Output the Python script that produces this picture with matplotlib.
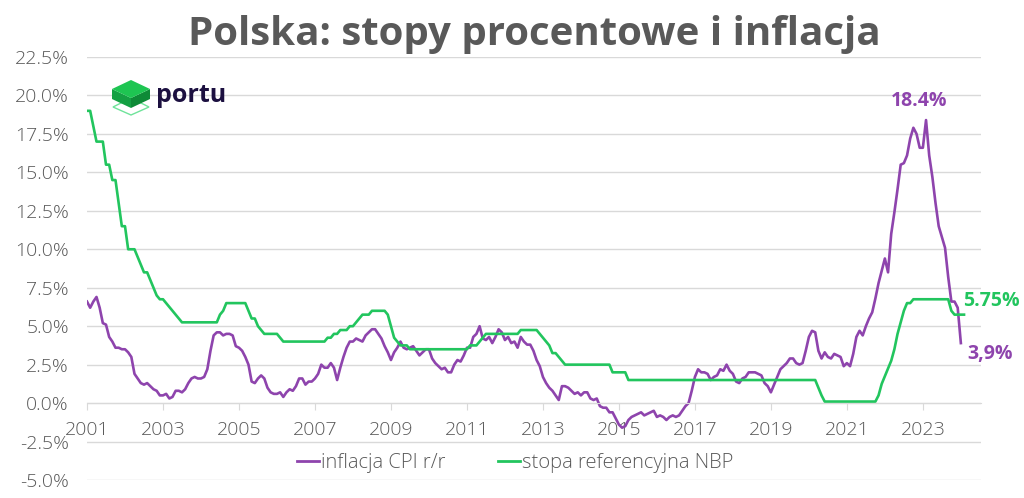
import matplotlib
matplotlib.use("Agg")
import matplotlib.pyplot as plt
from matplotlib.patches import Polygon
from matplotlib.lines import Line2D
import numpy as np

# monthly data, Jan 2001 onwards
cpi = [
    6.6, 6.2, 6.6, 6.9, 6.2, 5.2, 5.1, 4.3, 4.0, 3.6, 3.6, 3.5,      # 2001
    3.5, 3.3, 3.0, 1.9, 1.6, 1.3, 1.2, 1.3, 1.1, 0.9, 0.8, 0.5,      # 2002
    0.5, 0.6, 0.3, 0.4, 0.8, 0.8, 0.7, 0.9, 1.3, 1.6, 1.7, 1.6,      # 2003
    1.6, 1.7, 2.2, 3.4, 4.4, 4.6, 4.6, 4.4, 4.5, 4.5, 4.4, 3.7,      # 2004
    3.6, 3.4, 3.0, 2.5, 1.4, 1.3, 1.6, 1.8, 1.6, 1.0, 0.7, 0.6,      # 2005
    0.6, 0.7, 0.4, 0.7, 0.9, 0.8, 1.1, 1.6, 1.6, 1.2, 1.4, 1.4,      # 2006
    1.6, 1.9, 2.5, 2.3, 2.3, 2.6, 2.3, 1.5, 2.3, 3.0, 3.6, 4.0,      # 2007
    4.0, 4.2, 4.1, 4.0, 4.4, 4.6, 4.8, 4.8, 4.5, 4.2, 3.7, 3.3,      # 2008
    2.8, 3.3, 3.6, 4.0, 3.6, 3.5, 3.6, 3.7, 3.4, 3.1, 3.3, 3.5,      # 2009
    3.5, 2.9, 2.6, 2.4, 2.2, 2.3, 2.0, 2.0, 2.5, 2.8, 2.7, 3.1,      # 2010
    3.6, 3.6, 4.3, 4.5, 5.0, 4.2, 4.1, 4.3, 3.9, 4.3, 4.8, 4.6,      # 2011
    4.1, 4.3, 3.9, 4.0, 3.6, 4.3, 4.0, 3.8, 3.8, 3.4, 2.8, 2.4,      # 2012
    1.7, 1.3, 1.0, 0.8, 0.5, 0.2, 1.1, 1.1, 1.0, 0.8, 0.6, 0.7,      # 2013
    0.5, 0.7, 0.7, 0.3, 0.2, 0.3, -0.2, -0.3, -0.3, -0.6, -0.6, -1.0,  # 2014
    -1.4, -1.6, -1.5, -1.1, -0.9, -0.8, -0.7, -0.6, -0.8, -0.7, -0.6, -0.5,  # 2015
    -0.9, -0.8, -0.9, -1.1, -0.9, -0.8, -0.9, -0.8, -0.5, -0.2, 0.0, 0.8,   # 2016
    1.7, 2.2, 2.0, 2.0, 1.9, 1.5, 1.7, 1.8, 2.2, 2.1, 2.5, 2.1,      # 2017
    1.9, 1.4, 1.3, 1.6, 1.7, 2.0, 2.0, 2.0, 1.9, 1.8, 1.3, 1.1,      # 2018
    0.7, 1.2, 1.7, 2.2, 2.4, 2.6, 2.9, 2.9, 2.6, 2.5, 2.6, 3.4,      # 2019
    4.3, 4.7, 4.6, 3.4, 2.9, 3.3, 3.0, 2.9, 3.2, 3.1, 3.0, 2.4,      # 2020
    2.6, 2.4, 3.2, 4.3, 4.7, 4.4, 5.0, 5.5, 5.9, 6.8, 7.8, 8.6,      # 2021
    9.4, 8.5, 11.0, 12.4, 13.9, 15.5, 15.6, 16.1, 17.2, 17.9, 17.5, 16.6,  # 2022
    16.6, 18.4, 16.1, 14.7, 13.0, 11.5, 10.8, 10.1, 8.2, 6.6, 6.6, 6.2,    # 2023
    3.9,                                                              # 2024
]

stopa = [
    19.0, 19.0, 18.0, 17.0, 17.0, 17.0, 15.5, 15.5, 14.5, 14.5, 13.0, 11.5,  # 2001
    11.5, 10.0, 10.0, 10.0, 9.5, 9.0, 8.5, 8.5, 8.0, 7.5, 7.0, 6.75,        # 2002
    6.75, 6.5, 6.25, 6.0, 5.75, 5.5, 5.25, 5.25, 5.25, 5.25, 5.25, 5.25,    # 2003
    5.25, 5.25, 5.25, 5.25, 5.25, 5.25, 5.75, 6.0, 6.5, 6.5, 6.5, 6.5,      # 2004
    6.5, 6.5, 6.5, 6.0, 5.5, 5.5, 5.0, 4.75, 4.5, 4.5, 4.5, 4.5,            # 2005
    4.5, 4.25, 4.0, 4.0, 4.0, 4.0, 4.0, 4.0, 4.0, 4.0, 4.0, 4.0,            # 2006
    4.0, 4.0, 4.0, 4.0, 4.25, 4.25, 4.5, 4.5, 4.75, 4.75, 4.75, 5.0,        # 2007
    5.0, 5.25, 5.5, 5.75, 5.75, 5.75, 6.0, 6.0, 6.0, 6.0, 6.0, 5.75,        # 2008
    5.0, 4.25, 4.0, 3.75, 3.75, 3.75, 3.5, 3.5, 3.5, 3.5, 3.5, 3.5,         # 2009
    3.5, 3.5, 3.5, 3.5, 3.5, 3.5, 3.5, 3.5, 3.5, 3.5, 3.5, 3.5,             # 2010
    3.5, 3.75, 3.75, 3.75, 4.0, 4.25, 4.5, 4.5, 4.5, 4.5, 4.5, 4.5,         # 2011
    4.5, 4.5, 4.5, 4.5, 4.5, 4.75, 4.75, 4.75, 4.75, 4.75, 4.75, 4.5,       # 2012
    4.25, 4.0, 3.75, 3.25, 3.25, 3.0, 2.75, 2.5, 2.5, 2.5, 2.5, 2.5,        # 2013
    2.5, 2.5, 2.5, 2.5, 2.5, 2.5, 2.5, 2.5, 2.5, 2.5, 2.0, 2.0,             # 2014
    2.0, 2.0, 2.0, 1.5, 1.5, 1.5, 1.5, 1.5, 1.5, 1.5, 1.5, 1.5,             # 2015
    1.5, 1.5, 1.5, 1.5, 1.5, 1.5, 1.5, 1.5, 1.5, 1.5, 1.5, 1.5,             # 2016
    1.5, 1.5, 1.5, 1.5, 1.5, 1.5, 1.5, 1.5, 1.5, 1.5, 1.5, 1.5,             # 2017
    1.5, 1.5, 1.5, 1.5, 1.5, 1.5, 1.5, 1.5, 1.5, 1.5, 1.5, 1.5,             # 2018
    1.5, 1.5, 1.5, 1.5, 1.5, 1.5, 1.5, 1.5, 1.5, 1.5, 1.5, 1.5,             # 2019
    1.5, 1.5, 1.5, 1.0, 0.5, 0.1, 0.1, 0.1, 0.1, 0.1, 0.1, 0.1,             # 2020
    0.1, 0.1, 0.1, 0.1, 0.1, 0.1, 0.1, 0.1, 0.1, 0.1, 0.5, 1.25,            # 2021
    1.75, 2.25, 2.75, 3.5, 4.5, 5.25, 6.0, 6.5, 6.5, 6.75, 6.75, 6.75,      # 2022
    6.75, 6.75, 6.75, 6.75, 6.75, 6.75, 6.75, 6.75, 6.75, 6.0, 5.75, 5.75,  # 2023
    5.75, 5.75,                                                              # 2024
]

years = list(range(2001, 2024, 2))
y_ticks = np.arange(-5, 22.6, 2.5)

purple = "#8e44ad"
green = "#22c55e"
gray = "#595959"
grid = "#d9d9d9"
font = "Open Sans"

x_cpi = 2001 + np.arange(len(cpi)) / 12
x_stopa = 2001 + np.arange(len(stopa)) / 12

fig = plt.figure(figsize=(10.24, 4.98), dpi=100)
ax = fig.add_axes([87 / 1024, 1 - 480 / 498, (981 - 87) / 1024, (480 - 57) / 498])

# x axis sits on the 0% line (set before tick labels, it resets the ticks)
for s in ["top", "right", "left"]:
    ax.spines[s].set_visible(False)
ax.spines["bottom"].set_position(("data", 0))
ax.spines["bottom"].set_color(grid)

ax.plot(x_cpi, cpi, color=purple, lw=1.9, solid_joinstyle="round")
ax.plot(x_stopa, stopa, color=green, lw=1.9, solid_joinstyle="round")

ax.set_xlim(2001, 2024.53)
ax.set_ylim(-5, 22.5)
ax.set_yticks(y_ticks)
ax.set_yticklabels([f"{v:.1f}%" for v in y_ticks], fontsize=14, color=gray,
                   family=font, fontweight="light")
ax.set_xticks(years)
ax.set_xticklabels([str(y) for y in years], fontsize=14, color=gray,
                   family=font, fontweight="light")

ax.grid(axis="y", color=grid, lw=1)
ax.set_axisbelow(True)
ax.tick_params(axis="y", length=0, pad=13)
ax.tick_params(axis="x", length=5, color=grid, pad=8)

# labels at notable points
ax.annotate("18.4%", (x_cpi[cpi.index(max(cpi))], max(cpi)), xytext=(-5, 14),
            textcoords="offset points", ha="center", va="center",
            fontsize=14, fontweight="bold", color=purple, family=font)
ax.annotate("5.75%", (x_stopa[-1], stopa[-1]), xytext=(-1, 10),
            textcoords="offset points", ha="left", va="center",
            fontsize=14, fontweight="bold", color=green, family=font)
ax.annotate("3,9%", (x_cpi[-1], cpi[-1]), xytext=(5, -8),
            textcoords="offset points", ha="left", va="center",
            fontsize=14, fontweight="bold", color=purple, family=font)

handles = [Line2D([], [], color=purple, lw=2), Line2D([], [], color=green, lw=2)]
fig.legend(handles, ["inflacja CPI r/r", "stopa referencyjna NBP"], loc="center",
           bbox_to_anchor=(515 / 1024, 1 - 463 / 498), ncol=2, frameon=False,
           handlelength=1.1, handletextpad=0.1, columnspacing=2.6,
           prop={"family": font, "size": 14.5, "weight": "light"}, labelcolor=gray)

fig.text(534 / 1024, 1 - 34 / 498, "Polska: stopy procentowe i inflacja", ha="center",
         va="center", fontsize=29, fontweight="bold", color=gray, family=font)

# portu logo
def px(pts):
    return [(x / 1024, 1 - y / 498) for x, y in pts]

fig.add_artist(Polygon(px([(113, 107), (131, 98), (149, 107), (131, 115)]), closed=True,
                       fill=False, ec="#6fe39a", lw=1, transform=fig.transFigure))
fig.add_artist(Polygon(px([(112, 89), (131, 98), (131, 108), (112, 99)]), closed=True,
                       fc="#14a043", ec="none", transform=fig.transFigure))
fig.add_artist(Polygon(px([(131, 98), (150, 89), (150, 99), (131, 108)]), closed=True,
                       fc="#0e8a37", ec="none", transform=fig.transFigure))
fig.add_artist(Polygon(px([(112, 89), (131, 80), (150, 89), (131, 98)]), closed=True,
                       fc="#1ec552", ec="none", transform=fig.transFigure))
fig.text(156 / 1024, 1 - 95 / 498, "portu", ha="left", va="center", fontsize=18,
         fontweight="bold", color="#1c1040", family=font)

fig.savefig("out.png", dpi=100, facecolor="white")
